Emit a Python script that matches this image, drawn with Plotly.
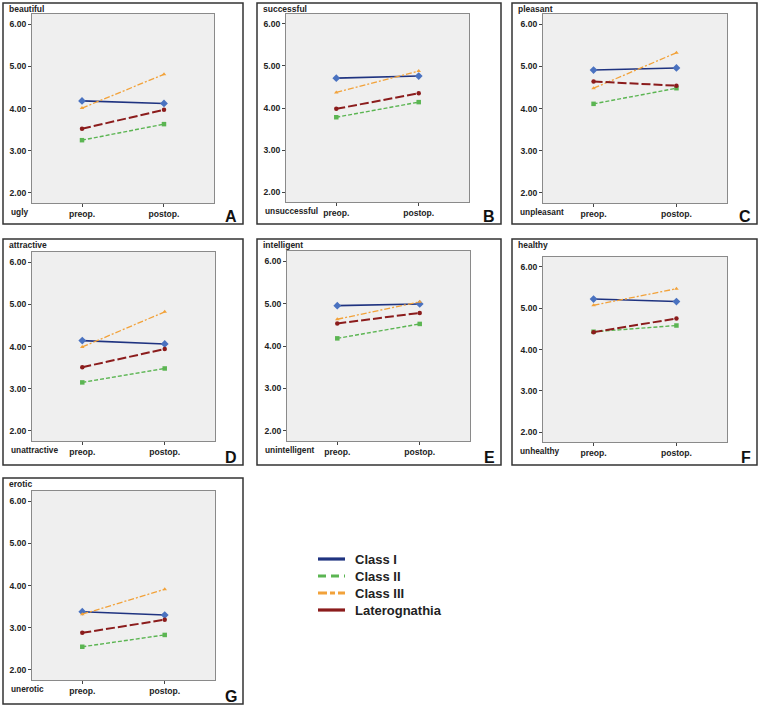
import plotly.graph_objects as go

W, H = 760, 707

# ---------------- data ----------------
phases = ["preop.", "postop."]
series_names = ["Class I", "Class II", "Class III", "Laterognathia"]
panel_titles = ["beautiful", "successful", "pleasant", "attractive", "intelligent", "healthy", "erotic"]
panel_opposites = ["ugly", "unsuccessful", "unpleasant", "unattractive", "unintelligent", "unhealthy", "unerotic"]
panel_letters = ["A", "B", "C", "D", "E", "F", "G"]

class_i = [[4.18, 4.12], [4.71, 4.76], [4.91, 4.96], [4.14, 4.06], [4.95, 4.99], [5.22, 5.16], [3.38, 3.30]]
class_ii = [[3.25, 3.63], [3.78, 4.14], [4.11, 4.48], [3.15, 3.48], [4.18, 4.52], [4.43, 4.58], [2.55, 2.83]]
class_iii = [[4.01, 4.81], [4.37, 4.88], [4.48, 5.32], [3.99, 4.82], [4.63, 5.04], [5.07, 5.47], [3.32, 3.91]]
laterognathia = [[3.52, 3.97], [3.98, 4.35], [4.64, 4.54], [3.51, 3.94], [4.53, 4.78], [4.42, 4.75], [2.88, 3.19]]

y_ticks = [2, 3, 4, 5, 6]
y_tick_labels = ["2.00", "3.00", "4.00", "5.00", "6.00"]

# ---------------- styles ----------------
styles = [
    dict(line=dict(color="#1f3380", width=1.6, dash="solid"),
         marker=dict(symbol="diamond", size=6, color="#4a72c0")),
    dict(line=dict(color="#5bb552", width=1.4, dash="4px,2px"),
         marker=dict(symbol="square", size=4.5, color="#5bb552")),
    dict(line=dict(color="#f2a23a", width=1.3, dash="6px,2px,2px,2px"),
         marker=dict(symbol="triangle-up", size=4, color="#f2a23a")),
    dict(line=dict(color="#8b1c1c", width=2, dash="9px,3px"),
         marker=dict(symbol="circle", size=4.5, color="#8b1c1c")),
]
all_series = [class_i, class_ii, class_iii, laterognathia]

# panel frames (px): left, top, right, bottom
boxes = [
    (3, 3, 243, 224), (257, 3, 501, 224), (512, 3, 757, 224),
    (3, 239, 243, 465), (257, 239, 501, 465), (512, 239, 757, 465),
    (3, 478, 243, 704),
]
# plot areas (px): left, top, right, bottom
plots = [
    (32, 14, 214, 203), (286, 14, 469, 202), (543, 14, 727, 203),
    (32, 252, 215, 441), (287, 251, 470, 441), (543, 257, 727, 442),
    (32, 491, 215, 680),
]

def px(x):
    return x / W

def py(y):
    return 1 - y / H

fig = go.Figure()
layout = dict(width=W, height=H, margin=dict(l=0, r=0, t=0, b=0),
              paper_bgcolor="white", plot_bgcolor="#efefef", showlegend=False,
              font=dict(family="Liberation Sans, Arial, sans-serif", color="#222"))
shapes = []
annotations = []

tick_font = dict(family="Liberation Sans, Arial, sans-serif", size=8.6, color="#222")

for i in range(7):
    xa = "xaxis" if i == 0 else f"xaxis{i+1}"
    ya = "yaxis" if i == 0 else f"yaxis{i+1}"
    xr = "x" if i == 0 else f"x{i+1}"
    yr = "y" if i == 0 else f"y{i+1}"
    l, t, r, b = plots[i]
    layout[xa] = dict(domain=[px(l), px(r)], anchor=yr, range=[-0.61, 1.61],
                      tickvals=[0, 1], ticktext=[f"<b>{p}</b>" for p in phases],
                      ticks="outside", ticklen=3, tickcolor="#444",
                      showgrid=False, zeroline=False, showline=True, mirror=True,
                      linecolor="#8a8a8a", linewidth=1, tickfont=tick_font, fixedrange=True)
    layout[ya] = dict(domain=[py(b), py(t)], anchor=xr, range=[1.763, 6.237],
                      tickvals=y_ticks, ticktext=[f"<b>{s}</b>" for s in y_tick_labels],
                      ticks="outside", ticklen=3, tickcolor="#444",
                      showgrid=False, zeroline=False, showline=True, mirror=True,
                      linecolor="#8a8a8a", linewidth=1, tickfont=tick_font, fixedrange=True)
    for s_idx, series in enumerate(all_series):
        st = styles[s_idx]
        fig.add_trace(go.Scatter(x=[0, 1], y=series[i], mode="lines+markers",
                                 name=series_names[s_idx], line=st["line"],
                                 marker=st["marker"], xaxis=xr, yaxis=yr,
                                 hoverinfo="skip"))
    bl, bt, br, bb = boxes[i]
    shapes.append(dict(type="rect", xref="paper", yref="paper",
                       x0=px(bl), x1=px(br), y0=py(bb), y1=py(bt),
                       line=dict(color="#333", width=1.5)))
    annotations.append(dict(text=f"<b>{panel_titles[i]}</b>", xref="paper", yref="paper",
                            x=px(bl + 4), y=py(bt + 6), xanchor="left", yanchor="middle",
                            showarrow=False, font=dict(size=8.5, color="#222")))
    annotations.append(dict(text=f"<b>{panel_opposites[i]}</b>", xref="paper", yref="paper",
                            x=px(bl + 6), y=py(b + 9), xanchor="left", yanchor="middle",
                            showarrow=False, font=dict(size=8.3, color="#222")))
    annotations.append(dict(text=f"<b>{panel_letters[i]}</b>", xref="paper", yref="paper",
                            x=px(br - 4), y=py(bb - 8), xanchor="right", yanchor="middle",
                            showarrow=False, font=dict(size=16, color="#111")))

# legend (drawn manually)
legend_styles = [
    dict(color="#1f3380", dash="solid"),
    dict(color="#5bb552", dash="8px,5px"),
    dict(color="#f2a23a", dash="9px,3px,5px,3px"),
    dict(color="#8b1c1c", dash="solid"),
]
leg_y = [559, 576, 593, 610]
for k, name in enumerate(series_names):
    shapes.append(dict(type="line", xref="paper", yref="paper",
                       x0=px(318), x1=px(345), y0=py(leg_y[k]), y1=py(leg_y[k]),
                       line=dict(color=legend_styles[k]["color"], width=3.2,
                                 dash=legend_styles[k]["dash"])))
    annotations.append(dict(text=f"<b>{name}</b>", xref="paper", yref="paper",
                            x=px(353), y=py(leg_y[k]), xanchor="left", yanchor="middle",
                            showarrow=False, font=dict(size=13, color="#222")))

layout["shapes"] = shapes
layout["annotations"] = annotations
fig.update_layout(**layout)
fig.write_html("out.html", config={"displayModeBar": False},
               post_script="document.body.style.margin='0';document.body.style.overflow='hidden';")
